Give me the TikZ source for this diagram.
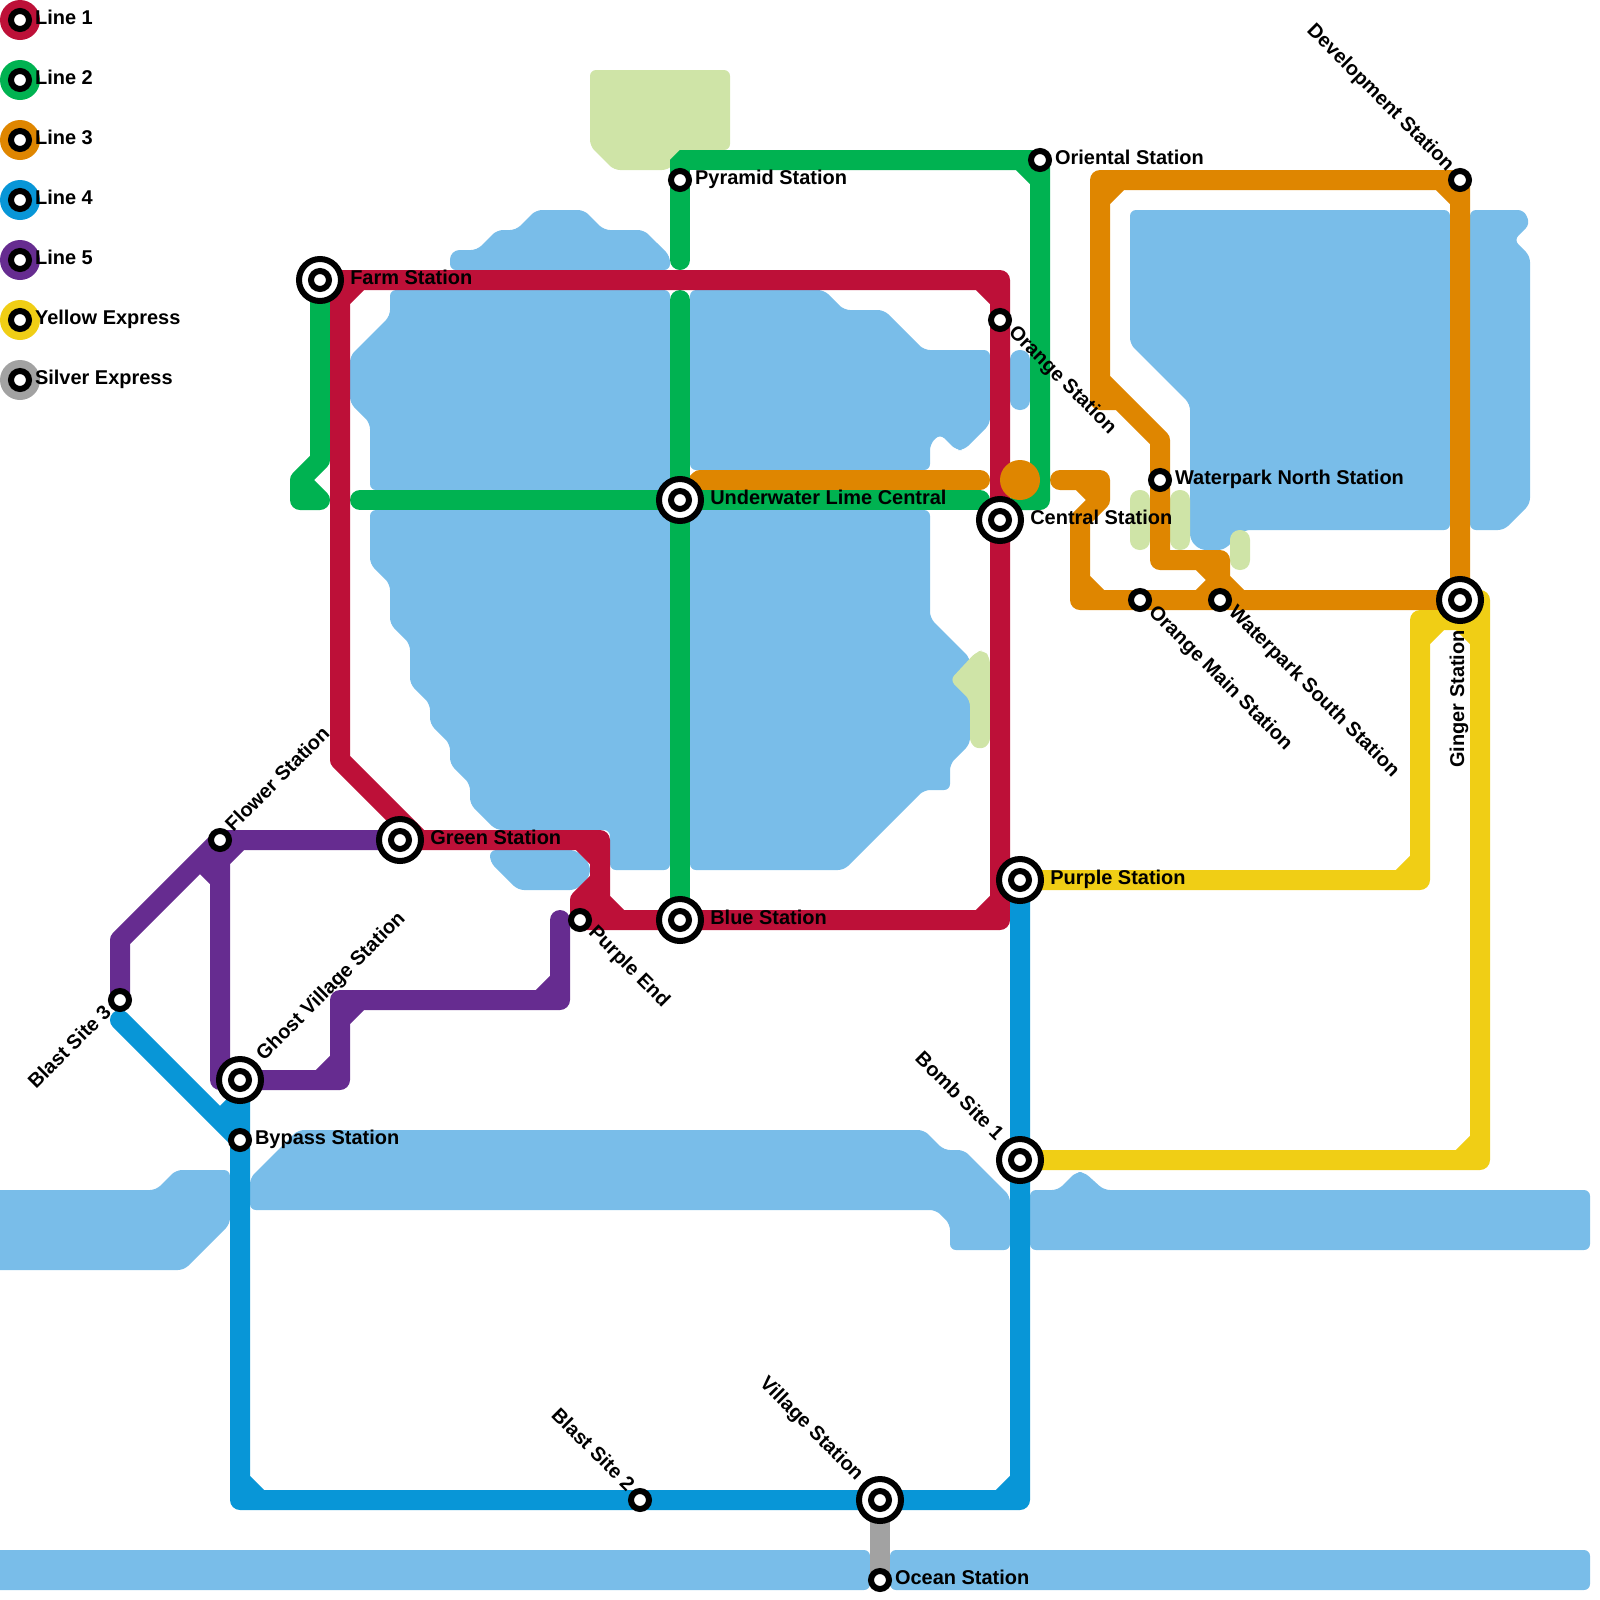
\documentclass[tikz,border=0pt]{standalone}
\usepackage{fontspec}
\setmainfont{Liberation Sans}
\usetikzlibrary{backgrounds}
\definecolor{redline}{HTML}{BD1038}
\definecolor{greenline}{HTML}{00B251}
\definecolor{orangeline}{HTML}{DF8600}
\definecolor{blueline}{HTML}{0896D7}
\definecolor{purpleline}{HTML}{662C90}
\definecolor{yellowline}{HTML}{F0CE15}
\definecolor{silverline}{HTML}{A2A2A2}
\definecolor{waterblue}{HTML}{79BDE9}
\definecolor{landgreen}{HTML}{CFE4A7}
\tikzset{
    track/.style={line width=.5cm, line cap=round, line join=round},
    water/.style={fill=waterblue, rounded corners=.15cm},
    land/.style={fill=landgreen, rounded corners=.15cm},
    smallstop/.style={circle, draw=black, fill=white, line width=.15cm, minimum size=.45cm, inner sep=0pt},
    bigstop/.style={circle, draw=black, fill=white, line width=.15cm, minimum size=1.05cm, inner sep=0pt,
        path picture={\draw[black, line width=.15cm] (path picture bounding box.center) circle (.225cm);}},
    stoplabel/.style={font=\fontsize{14.2}{16}\selectfont\bfseries, inner sep=0pt, anchor=base west},
    smallright/.style={stoplabel, shift={(.74,.2)}},
    bigright/.style={stoplabel, shift={(1.5,.2)}},
    smallleft/.style={stoplabel, anchor=base east, shift={(-.74,.2)}},
    bigleft/.style={stoplabel, anchor=base east, shift={(-1.5,.2)}}
}

\begin{document}
\begin{tikzpicture}[x=.5cm, y=-.5cm]
    \useasboundingbox (0,0) rectangle (80,80);
    \clip (0,0) rectangle (80,80);

    % Interchange stations
    \foreach \name/\pos in {farm/{16,14}, underwater/{34,25}, central/{50,26}, green/{20,42}, blue/{34,46},
        purple/{51,44}, ghost/{12,54}, bomb/{51,58}, village/{44,75}, ginger/{73,30}}
        \node[bigstop] (\name) at (\pos) {};

    % Plain stations
    \foreach \name/\pos in {pyramid/{34,9}, oriental/{52,8}, orange/{50,16}, development/{73,9}, wpnorth/{58,24},
        orangemain/{57,30}, wpsouth/{61,30}, flower/{11,42}, blastthree/{6,50}, purpleend/{29,46},
        bypass/{12,57}, blasttwo/{32,75}, ocean/{44,79}}
        \node[smallstop] (\name) at (\pos) {};

    % Free line ends
    \coordinate (greenwest) at (18,25);
    \coordinate (greeneast) at (49,25);
    \coordinate (greenjoin) at (51,25);
    \coordinate (pyramidend) at (34,13);
    \coordinate (greensouth) at (34,15);
    \coordinate (greenstub) at (16,25);
    \coordinate (orangewest) at (49,24);
    \coordinate (orangeeast) at (53,24);
    \coordinate (bluestart) at (6,51);
    \coordinate (purpletop) at (28,46);

    \begin{scope}[on background layer]
        % Water
        \fill[water] (22.5,13.5) [rounded corners=.24cm] -- (22.5,12.5) [rounded corners=.15cm] -- (23.85,12.5) -- (24.85,11.5) -- (25.8,11.5) -- (26.8,10.5) -- (29.2,10.5) -- (30.2,11.5) -- (32.2,11.5) -- (33.5,12.8) -- (33.5,13.5) -- cycle;
        \fill[water] (19.5,14.5) -- (33.5,14.5) -- (33.5,24.5) -- (18.5,24.5) -- (18.5,21.15) -- (17.5,20.15) -- (17.5,17.8) -- (19.5,15.8) -- cycle;
        \fill[water] (34.5,14.5) -- (41.2,14.5) -- (42.2,15.5) -- (44.2,15.5) -- (46.2,17.5) -- (49.5,17.5) -- (49.5,21.2) -- (48.2,22.5) -- (47.8,22.5) -- (47,21.7) -- (46.5,22.2) -- (46.5,23.5) -- (34.5,23.5) -- cycle;
        \fill[water] (18.5,25.5) -- (33.5,25.5) -- (33.5,43.5) -- (30.5,43.5) -- (30.5,41.5) -- (24.8,41.5) -- (23.5,40.2) -- (23.5,39.2) -- (22.5,38.2) -- (22.5,37.2) -- (21.5,36.2) -- (21.5,35.2) -- (20.5,34.2) -- (20.5,32.2) -- (19.5,31.2) -- (19.5,29.2) -- (18.5,28.2) -- cycle;
        \fill[water] (24.5,42.5) -- (28.8,42.5) -- (29.5,43.2) -- (29.5,43.8) -- (28.8,44.5) -- (25.9,44.5) -- (24.5,43.1) -- cycle;
        \fill[water] (34.5,25.5) -- (46.5,25.5) -- (46.5,30.9) -- (48.5,32.9) -- (48.5,37.2) -- (47.5,38.2) -- (47.5,39.5) -- (46.2,39.5) -- (42.2,43.5) -- (34.5,43.5) -- cycle;
        \fill[water] (56.5,10.5) -- (72.5,10.5) -- (72.5,26.5) -- (62.2,26.5) -- (61.2,27.5) -- (60,27.5) -- (59.5,27) -- (59.5,20.2) -- (56.5,17.2) -- cycle;
        \fill[water] (73.5,10.5) -- (76.2,10.5) -- (76.5,11.2) -- (75.7,12) -- (76.5,12.8) -- (76.5,25.2) -- (75.2,26.5) -- (73.5,26.5) -- cycle;
        \fill[water] (-1,59.5) -- (7.8,59.5) -- (8.8,58.5) -- (11.5,58.5) -- (11.5,61.2) -- (9.2,63.5) -- (-1,63.5) -- cycle;
        \fill[water] (12.5,58.9) -- (14.9,56.5) -- (46.2,56.5) -- (47.2,57.5) -- (48.2,57.5) -- (50.5,59.8) -- (50.5,62.5) -- (47.5,62.5) -- (47.5,61.2) -- (46.8,60.5) -- (12.5,60.5) -- cycle;
        \fill[water] (51.5,59.5) -- (52.9,59.5) -- (53.8,58.6) -- (54.2,58.6) -- (55.2,59.5) -- (79.5,59.5) -- (79.5,62.5) -- (51.5,62.5) -- cycle;
        \fill[water] (-1,77.5) -- (43.5,77.5) -- (43.5,79.5) -- (-1,79.5) -- cycle;
        \fill[water] (44.5,77.5) -- (79.5,77.5) -- (79.5,79.5) -- (44.5,79.5) -- cycle;
        \fill[water, rounded corners=.24cm] (50.5,17.5) rectangle (51.5,20.5);

        % Land
        \fill[land] (29.5,3.5) -- (36.5,3.5) -- (36.5,7.5) -- (34.4,7.5) -- (33.4,8.5) -- (30.7,8.5) -- (29.5,7.3) -- cycle;
        \fill[land] (47.5,34) -- (48.8,32.6) -- (49.2,32.5) -- (49.5,32.9) -- (49.5,37.2) -- (49,37.5) -- (48.5,37.2) -- (48.5,35) -- cycle;
        \fill[land, rounded corners=.24cm] (56.5,24.5) rectangle (57.5,27.5);
        \fill[land, rounded corners=.24cm] (58.5,24.5) rectangle (59.5,27.5);
        \fill[land, rounded corners=.24cm] (61.5,26.5) rectangle (62.5,28.5);

        % Line 3
        \draw[track, orangeline] (underwater.center) -- (35,24) -- (orangewest);
        \draw[track, orangeline] (orangeeast) -- (55,24) -- (55,25) -- (54,26) -- (54,30) -- (ginger.center) -- (development.center) -- (55,9) -- (55,20) -- (56,20)
            (54,24) -- (55,25) (54,29) -- (55,30) (72,9) -- (73,10) (56,9) -- (55,10)
            (55,19) -- (58,22) -- (wpnorth.center) -- (58,28) -- (61,28) -- (wpsouth.center)
            (60,28) -- (61,29) -- (60,30) (61,29) -- (62,30);

        % Line 2
        \draw[track, greenline] (greenwest) -- (underwater.center) -- (greeneast);
        \draw[track, greenline] (farm.center) -- (16,23) -- (15,24) -- (15,25) -- (greenstub) (15,24) -- (16,25);
        \draw[track, greenline] (greenjoin) -- (52,25) -- (oriental.center) -- (35,8) (51,8) -- (52,9);
        \draw[track, greenline, line join=bevel] (35,8) -- (34,8) -- (pyramid.center);
        \draw[track, greenline] (pyramid.center) -- (pyramidend);
        \draw[track, greenline] (greensouth) -- (blue.center);

        % Line 1
        \draw[track, redline] (farm.center) -- (50,14) -- (50,46) -- (blue.center) -- (purpleend.center) -- (29,45) -- (30,44) -- (30,42) -- (green.center)
            (30,44) -- (30,45) -- (31,46) (purpleend.center) -- (30,45) (21,42) -- (17,38) -- (17,15) -- (18,14)
            (49,14) -- (50,15) (49,46) -- (50,45) (29,42) -- (30,43);

        % Yellow Express
        \draw[track, yellowline] (purple.center) -- (71,44) -- (71,31) -- (73,31) -- (ginger.center) -- (74,30) -- (74,58) -- (bomb.center)
            (71,32) -- (72,31) (73,31) -- (74,32) (70,44) -- (71,43) (73,58) -- (74,57);

        % Line 4
        \draw[track, blueline] (purple.center) -- (51,75) -- (12,75) -- (ghost.center)
            (bluestart) -- (bypass.center) (50,75) -- (51,74) (12,74) -- (13,75) (11,56) -- (12,55);

        % Line 5
        \draw[track, purpleline] (blastthree.center) -- (6,47) -- (flower.center) -- (green.center)
            (flower.center) -- (11,54) -- (17,54) -- (17,50) -- (28,50) -- (purpletop)
            (12,42) -- (11,43) (10,43) -- (11,44) (16,54) -- (17,53) (18,50) -- (17,51) (27,50) -- (28,49);

        % Silver Express
        \draw[track, silverline] (village.center) -- (ocean.center);

        % Orange interchange
        \node[circle, fill=orangeline, minimum size=1cm, inner sep=0pt] (orangedot) at (51,24) {};
    \end{scope}

    % Station names
    \node[smallright] (pyramidname) at (pyramid) {Pyramid Station};
    \node[smallright] (orientalname) at (oriental) {Oriental Station};
    \node[smallright] (wpnorthname) at (wpnorth) {Waterpark North Station};
    \node[smallright] (bypassname) at (bypass) {Bypass Station};
    \node[smallright] (oceanname) at (ocean) {Ocean Station};
    \node[bigright] (farmname) at (farm) {Farm Station};
    \node[bigright] (underwatername) at (underwater) {Underwater Lime Central};
    \node[bigright] (centralname) at (central) {Central Station};
    \node[bigright] (greenname) at (green) {Green Station};
    \node[bigright] (bluename) at (blue) {Blue Station};
    \node[bigright] (purplename) at (purple) {Purple Station};
    \node[rotate=-45, smallright] (orangename) at (orange) {Orange Station};
    \node[rotate=-45, smallright] (orangemainname) at (orangemain) {Orange Main Station};
    \node[rotate=-45, smallright] (wpsouthname) at (wpsouth) {Waterpark South Station};
    \node[rotate=-45, smallright] (purpleendname) at (purpleend) {Purple End};
    \node[rotate=-45, smallleft] (developmentname) at (development) {Development Station};
    \node[rotate=-45, smallleft] (blasttwoname) at (blasttwo) {Blast Site 2};
    \node[rotate=-45, bigleft] (villagename) at (village) {Village Station};
    \node[rotate=-45, bigleft] (bombname) at (bomb) {Bomb Site 1};
    \node[rotate=45, smallright] (flowername) at (flower) {Flower Station};
    \node[rotate=45, bigright] (ghostname) at (ghost) {Ghost Village Station};
    \node[rotate=45, smallleft] (blastthreename) at (blastthree) {Blast Site 3};
    \node[rotate=90, bigleft] (gingername) at (ginger) {Ginger Station};

    % Legend
    \foreach \row/\col/\txt in {1/redline/Line 1, 4/greenline/Line 2, 7/orangeline/Line 3, 10/blueline/Line 4,
        13/purpleline/Line 5, 16/yellowline/Yellow Express, 19/silverline/Silver Express} {
        \node[circle, fill=\col, minimum size=1cm, inner sep=0pt] (key\row) at (1,\row) {};
        \node[smallstop] (keystop\row) at (key\row) {};
        \node[smallright] (keyname\row) at (key\row) {\txt};
    }
\end{tikzpicture}
\end{document}
